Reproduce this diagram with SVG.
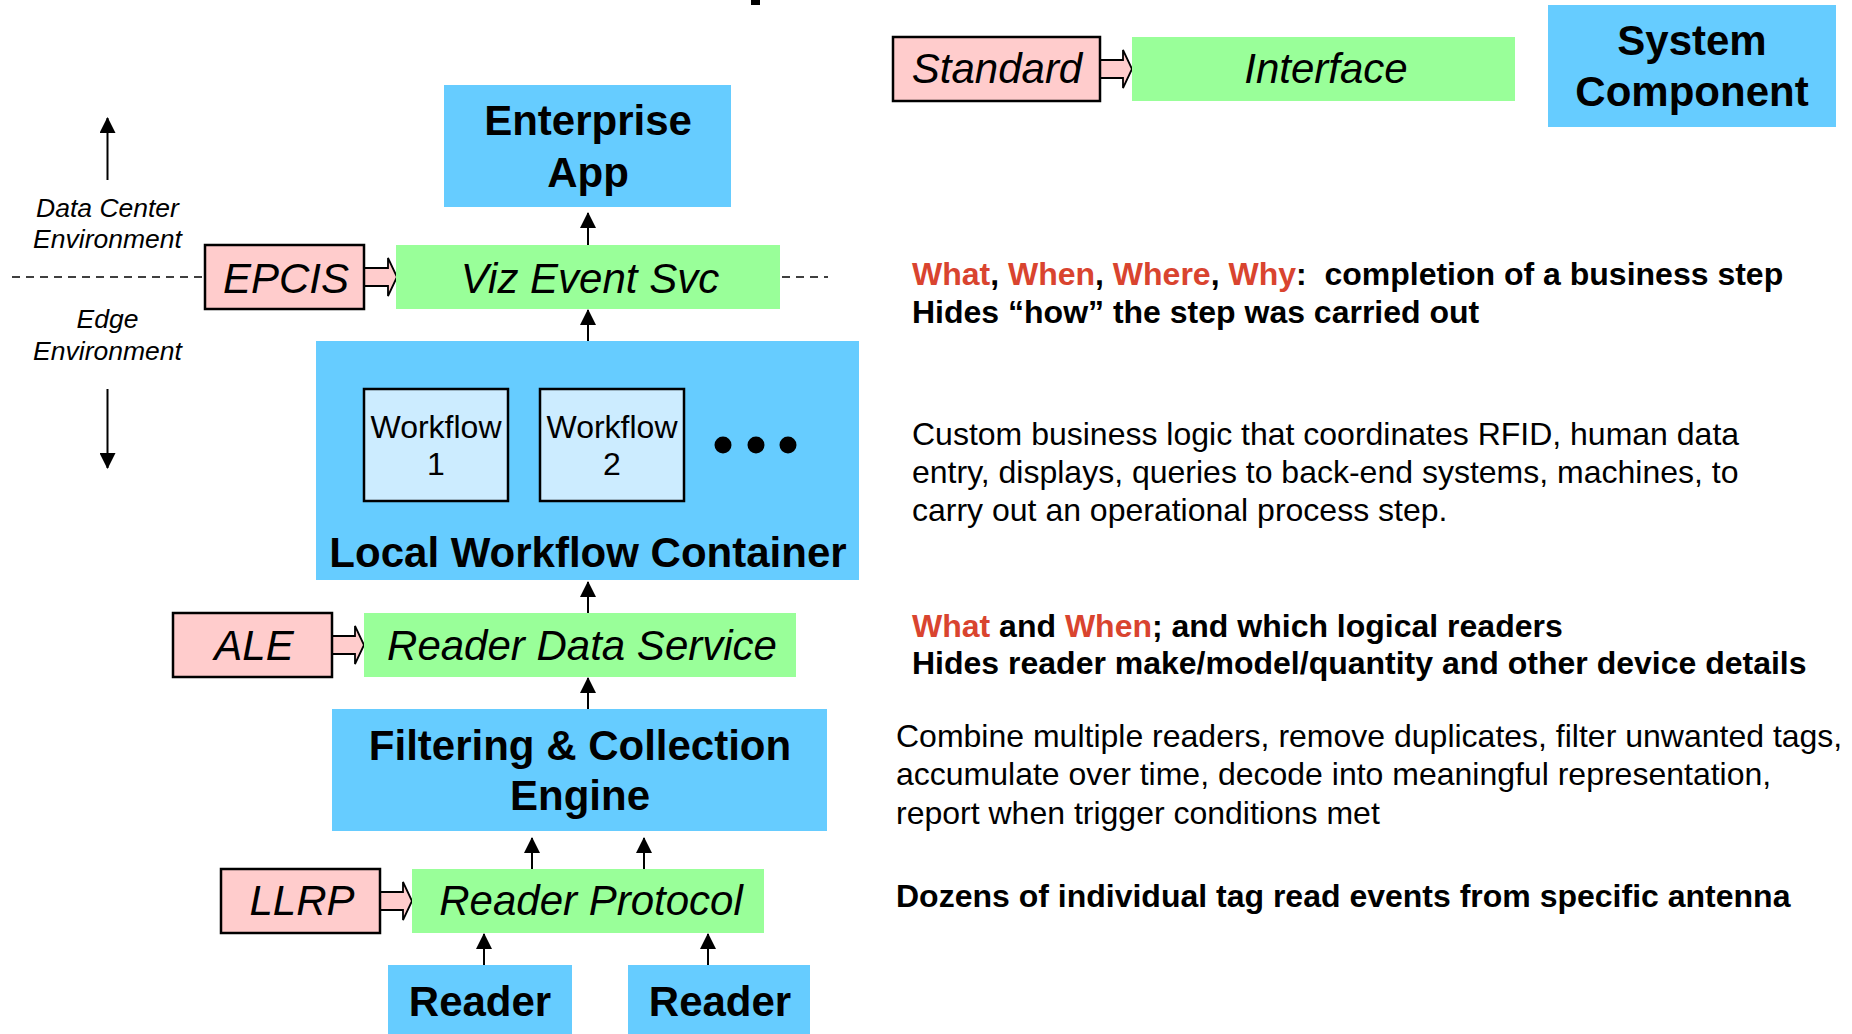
<svg xmlns="http://www.w3.org/2000/svg" width="1852" height="1034" viewBox="0 0 1852 1034">
<style>
.comp{fill:#66CCFF}
.intf{fill:#99FF99}
.std{fill:#FFCCCC;stroke:#000;stroke-width:2.5}
.wf{fill:#CCECFF;stroke:#000;stroke-width:2.5}
.b{font-family:"Liberation Sans",Arial,sans-serif;font-weight:bold;font-size:42px;text-anchor:middle;fill:#000}
.i{font-family:"Liberation Sans",Arial,sans-serif;font-style:italic;font-size:42px;text-anchor:middle;fill:#000}
.w{font-family:"Liberation Sans",Arial,sans-serif;font-size:32px;text-anchor:middle;fill:#000}
.env{font-family:"Liberation Sans",Arial,sans-serif;font-style:italic;font-size:26.5px;text-anchor:middle;fill:#000}
.rb{font-family:"Liberation Sans",Arial,sans-serif;font-weight:bold;font-size:32px;fill:#000}
.rr{font-family:"Liberation Sans",Arial,sans-serif;font-size:32px;fill:#000}
.red{fill:#D9442F}
.blk{fill:#FFCCCC;stroke:#000;stroke-width:1.8;stroke-linejoin:miter}
.dash{stroke:#000;stroke-width:1.5;stroke-dasharray:8 6;fill:none}
.up{stroke:#000;stroke-width:2;marker-end:url(#ah2)}
</style>
<defs>
<marker id="ah2" markerWidth="16" markerHeight="16" refX="15" refY="8" orient="auto" markerUnits="userSpaceOnUse" viewBox="0 0 16 16">
<path d="M0,0 L16,8 L0,16 Z" fill="#000"/>
</marker>
</defs>

<rect x="751" y="0" width="9" height="5" fill="#000"/>

<g id="connectors">
<line x1="12" y1="277" x2="204" y2="277" class="dash"/>
<line x1="782" y1="277" x2="828" y2="277" class="dash"/>
<line class="up" x1="107.5" y1="180" x2="107.5" y2="118"/>
<line class="up" x1="107.5" y1="389" x2="107.5" y2="468"/>
<line class="up" x1="588" y1="245" x2="588" y2="213"/>
<line class="up" x1="588" y1="341" x2="588" y2="310"/>
<line class="up" x1="588" y1="613" x2="588" y2="582"/>
<line class="up" x1="588" y1="709" x2="588" y2="678"/>
<line class="up" x1="532" y1="869" x2="532" y2="838"/>
<line class="up" x1="644" y1="869" x2="644" y2="838"/>
<line class="up" x1="484" y1="965" x2="484" y2="934"/>
<line class="up" x1="708" y1="965" x2="708" y2="934"/>
<path class="blk" d="M364,268 L388,268 L388,258 L397,277 L388,296 L388,286 L364,286 Z"/>
<path class="blk" d="M332,636 L355,636 L355,626 L364,645 L355,664 L355,654 L332,654 Z"/>
<path class="blk" d="M380,892 L403,892 L403,882 L412,901 L403,920 L403,910 L380,910 Z"/>
<path class="blk" d="M1100,60 L1123,60 L1123,50 L1132,69 L1123,88 L1123,78 L1100,78 Z"/>
</g>

<g id="env-labels">
<text class="env" x="107.5" y="217">Data Center</text>
<text class="env" x="107.5" y="248">Environment</text>
<text class="env" x="107.5" y="328">Edge</text>
<text class="env" x="107.5" y="360">Environment</text>
</g>

<g id="legend-standard"><rect class="std" x="893" y="37" width="207" height="64"/><text class="i" x="997" y="83">Standard</text></g>
<g id="legend-interface"><rect class="intf" x="1132" y="37" width="383" height="64"/><text class="i" x="1326" y="83">Interface</text></g>
<g id="legend-component"><rect class="comp" x="1548" y="5" width="288" height="122"/><text class="b" x="1692" y="55">System</text><text class="b" x="1692" y="106">Component</text></g>

<g id="enterprise-app"><rect class="comp" x="444" y="85" width="287" height="122"/><text class="b" x="588" y="135">Enterprise</text><text class="b" x="588" y="187">App</text></g>
<g id="epcis"><rect class="std" x="205" y="245" width="159" height="64"/><text class="i" x="286" y="293">EPCIS</text></g>
<g id="viz-event-svc"><rect class="intf" x="396" y="245" width="384" height="64"/><text class="i" x="590" y="293">Viz Event Svc</text></g>

<g id="local-workflow-container"><rect class="comp" x="316" y="341" width="543" height="239"/><text class="b" x="588" y="567">Local Workflow Container</text>
<circle cx="723" cy="445" r="8.5"/><circle cx="756" cy="445" r="8.5"/><circle cx="788" cy="445" r="8.5"/></g>
<g id="workflow-1"><rect class="wf" x="364" y="389" width="144" height="112"/><text class="w" x="436" y="438">Workflow</text><text class="w" x="436" y="475">1</text></g>
<g id="workflow-2"><rect class="wf" x="540" y="389" width="144" height="112"/><text class="w" x="612" y="438">Workflow</text><text class="w" x="612" y="475">2</text></g>

<g id="ale"><rect class="std" x="173" y="613" width="159" height="64"/><text class="i" x="254" y="660">ALE</text></g>
<g id="reader-data-service"><rect class="intf" x="364" y="613" width="432" height="64"/><text class="i" x="582" y="660">Reader Data Service</text></g>
<g id="filtering-engine"><rect class="comp" x="332" y="709" width="495" height="122"/><text class="b" x="580" y="760">Filtering &amp; Collection</text><text class="b" x="580" y="810">Engine</text></g>
<g id="llrp"><rect class="std" x="221" y="869" width="159" height="64"/><text class="i" x="302" y="915">LLRP</text></g>
<g id="reader-protocol"><rect class="intf" x="412" y="869" width="352" height="64"/><text class="i" x="591" y="915">Reader Protocol</text></g>
<g id="reader-1"><rect class="comp" x="388" y="965" width="184" height="69"/><text class="b" x="480" y="1016">Reader</text></g>
<g id="reader-2"><rect class="comp" x="628" y="965" width="182" height="69"/><text class="b" x="720" y="1016">Reader</text></g>

<g id="descriptions">
<text class="rb" x="912" y="285" xml:space="preserve" style="white-space:pre"><tspan class="red">What</tspan>, <tspan class="red">When</tspan>, <tspan class="red">Where</tspan>, <tspan class="red">Why</tspan>:  completion of a business step</text>
<text class="rb" x="912" y="323">Hides “how” the step was carried out</text>
<text class="rr" x="912" y="445">Custom business logic that coordinates RFID, human data</text>
<text class="rr" x="912" y="483">entry, displays, queries to back-end systems, machines, to</text>
<text class="rr" x="912" y="521">carry out an operational process step.</text>
<text class="rb" x="912" y="637"><tspan class="red">What</tspan> and <tspan class="red">When</tspan>; and which logical readers</text>
<text class="rb" x="912" y="674">Hides reader make/model/quantity and other device details</text>
<text class="rr" x="896" y="747">Combine multiple readers, remove duplicates, filter unwanted tags,</text>
<text class="rr" x="896" y="785">accumulate over time, decode into meaningful representation,</text>
<text class="rr" x="896" y="824">report when trigger conditions met</text>
<text class="rb" x="896" y="907">Dozens of individual tag read events from specific antenna</text>
</g>
</svg>
